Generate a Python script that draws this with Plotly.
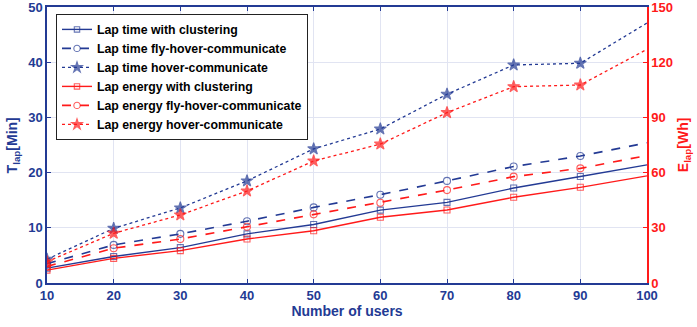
import plotly.graph_objects as go

users = [10, 20, 30, 40, 50, 60, 70, 80, 90, 100]
time_cluster = [2.7, 4.8, 6.4, 8.9, 10.6, 13.2, 14.6, 17.2, 19.3, 21.4]
time_fhc = [3.5, 6.9, 8.9, 11.2, 13.7, 16.0, 18.5, 21.1, 23.0, 25.4]
time_hc = [4.3, 9.9, 13.6, 18.5, 24.3, 27.9, 34.2, 39.5, 39.8, 47.1]
energy_cluster = [7.0, 13.4, 17.6, 23.9, 28.4, 35.7, 39.7, 46.6, 52.0, 58.2]
energy_fhc = [9.0, 18.9, 23.9, 30.6, 37.3, 43.6, 50.5, 57.8, 62.3, 69.3]
energy_hc = [11.6, 27.0, 37.0, 50.0, 66.3, 75.5, 92.6, 106.7, 107.6, 127.0]
left_ticks = [0, 10, 20, 30, 40, 50]
right_ticks = [0, 30, 60, 90, 120, 150]

BLUE = "#233a94"
RED = "#ff1a1a"
FONT = "Liberation Sans, Arial, sans-serif"

fig = go.Figure()

def add(y, name, color, dash, symbol, size, axis, width=1.4):
    # markers drawn at every point except the last (the reference shows none at x=100)
    sizes = [size] * (len(users) - 1) + [0]
    fig.add_trace(go.Scatter(
        x=users, y=y, name=name, yaxis=axis, mode="lines+markers",
        line=dict(color=color, dash=dash, width=width),
        marker=dict(symbol=symbol, size=sizes, color=color,
                    line=dict(color=color, width=1.1)),
    ))

add(time_cluster, "Lap time with clustering", BLUE, "solid", "square-open", 6, "y")
add(time_fhc, "Lap time fly-hover-communicate", BLUE, "dash", "circle-open", 7, "y", 1.6)
add(time_hc, "Lap time hover-communicate", BLUE, "dot", "star", 9, "y", 1.3)
add(energy_cluster, "Lap energy with clustering", RED, "solid", "square-open", 6, "y2")
add(energy_fhc, "Lap energy fly-hover-communicate", RED, "dash", "circle-open", 7, "y2", 1.6)
add(energy_hc, "Lap energy hover-communicate", RED, "dot", "star", 9, "y2", 1.3)

fig.update_layout(
    width=697, height=327,
    margin=dict(l=47, r=50, t=7, b=44, autoexpand=False),
    paper_bgcolor="white", plot_bgcolor="white",
    font=dict(family=FONT, size=13, color=BLUE),
    showlegend=True,
    legend=dict(
        x=0.015, y=0.975, xanchor="left", yanchor="top",
        bgcolor="white", bordercolor="#222222", borderwidth=1,
        font=dict(family=FONT, size=12.3, color="black", weight="bold"),
        tracegroupgap=0, itemwidth=30,
    ),
    xaxis=dict(
        range=[10, 100], tickvals=users, ticks="inside", ticklen=4,
        tickcolor=BLUE, showline=True, linecolor=BLUE, linewidth=1.5,
        mirror="ticks", showgrid=True, gridcolor="#e1e4f2", gridwidth=1,
        zeroline=False, automargin=False, ticklabeloverflow="allow",
        tickfont=dict(family=FONT, size=13, color=BLUE, weight="bold"),
        title=dict(text="Number of users", standoff=4,
                   font=dict(family=FONT, size=14, color=BLUE, weight="bold")),
    ),
    yaxis=dict(
        range=[0, 50], tickvals=left_ticks, ticks="inside", ticklen=4,
        tickcolor=BLUE, showline=True, linecolor=BLUE, linewidth=1.5,
        showgrid=True, gridcolor="#e1e4f2", gridwidth=1, zeroline=False,
        automargin=False, ticklabeloverflow="allow",
        tickfont=dict(family=FONT, size=13, color=BLUE, weight="bold"),
    ),
    yaxis2=dict(
        range=[0, 150], tickvals=right_ticks, overlaying="y", side="right",
        ticks="inside", ticklen=4, tickcolor=RED, showline=True,
        linecolor=RED, linewidth=1.5, showgrid=False, zeroline=False,
        automargin=False, ticklabeloverflow="allow",
        tickfont=dict(family=FONT, size=13, color=RED, weight="bold"),
    ),
    annotations=[
        dict(text="T<sub>lap</sub>[Min]", xref="paper", yref="paper",
             x=-0.056, y=0.5, xanchor="center", yanchor="middle",
             textangle=-90, showarrow=False,
             font=dict(family=FONT, size=14, color=BLUE, weight="bold")),
        dict(text="E<sub>lap</sub>[Wh]", xref="paper", yref="paper",
             x=1.062, y=0.5, xanchor="center", yanchor="middle",
             textangle=-90, showarrow=False,
             font=dict(family=FONT, size=14, color=RED, weight="bold")),
    ],
)

fig.write_html("out.html",
               config={"displayModeBar": False},
               post_script="document.body.style.margin='0px';document.body.style.overflow='hidden';")
